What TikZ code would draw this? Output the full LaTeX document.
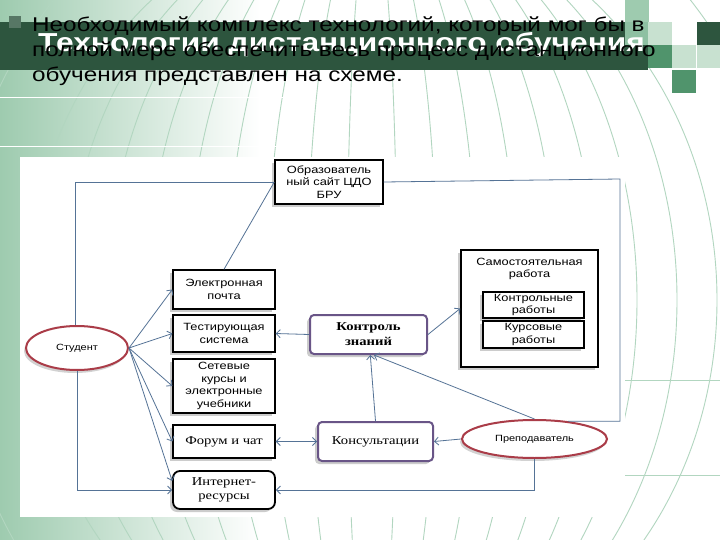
\documentclass[tikz,border=0pt]{standalone}
\usepackage{fontspec}
\setmainfont{Liberation Serif}
\newfontfamily\slidefont[FakeStretch=1.22]{Liberation Sans}
\newfontfamily\schemefont[FakeStretch=1.22]{Liberation Serif}
\usetikzlibrary{arrows.meta, shadows, shapes.geometric}
\definecolor{bandgreen}{RGB}{45,85,62}
\definecolor{midgreen}{RGB}{80,148,108}
\definecolor{lightgreen}{RGB}{158,203,175}
\definecolor{palegreen}{RGB}{200,225,208}
\definecolor{globeline}{RGB}{178,214,192}
\definecolor{linkblue}{RGB}{85,115,150}
\definecolor{ovalred}{RGB}{170,60,72}
\definecolor{framepurple}{RGB}{105,85,135}
\tikzset{
  box/.style     = {draw=black, line width=1.4pt, fill=white, align=center, inner sep=1pt,
                    font=\slidefont\fontsize{10.5}{12.5}\selectfont,
                    drop shadow={shadow xshift=-3pt, shadow yshift=-3pt, opacity=.4}},
  serifbox/.style= {box, font=\schemefont\fontsize{12}{14}\selectfont},
  purplebox/.style={serifbox, draw=framepurple, line width=2pt, rounded corners=4pt},
  oval/.style    = {ellipse, draw=ovalred, line width=2pt, fill=white, inner sep=0pt,
                    font=\slidefont\fontsize{9}{11}\selectfont,
                    drop shadow={shadow xshift=-2pt, shadow yshift=-3pt, opacity=.35}},
  link/.style    = {draw=linkblue, line width=0.8pt},
  arr/.style     = {link, -{Straight Barb[length=4pt,width=8pt]}},
  twoway/.style  = {link, {Straight Barb[length=4pt,width=8pt]}-{Straight Barb[length=4pt,width=8pt]}},
}

\begin{document}
\begin{tikzpicture}[
    x=1pt, y=-1pt,
    globe/.style={draw=globeline, line width=0.9pt},
    slidetext/.style={anchor=base west, inner sep=0pt, font=\slidefont\fontsize{19.9}{25}\selectfont},
    titletext/.style={anchor=base west, inner sep=0pt, text=white, font=\slidefont\bfseries\fontsize{26}{30}\selectfont}
]
\useasboundingbox (0,0) rectangle (720,540);
\fill[white] (0,0) rectangle (720,540);
% slide background
\shade[left color=lightgreen, right color=white] (0,0) rectangle (260,540);
\foreach \r in {25,65,...,345} {
    \draw[globe] (372,300) ellipse [x radius=\r, y radius=390];
}
\draw[globe] (372,300) ellipse [x radius=420, y radius=460];
\draw[white, line width=1pt] (0,98) -- (300,98);
\draw[white, line width=1pt] (0,147) -- (300,147);
\draw[globe] (625,380) -- (720,380);
\draw[globe] (625,475) -- (720,475);
% title band and squares
\fill[bandgreen] (0,22) rectangle (648,70);
\foreach \x/\y/\c in {625/0/lightgreen, 625/22/lightgreen!80!midgreen, 648/22/palegreen,
                      648/45/midgreen, 672/45/palegreen, 672/70/midgreen,
                      697/22/bandgreen, 697/45/palegreen} {
    \fill[\c] (\x,\y) rectangle ++(24,23);
}
\fill[bandgreen!80] (9,16) rectangle (21,28);
\node[titletext] (title) at (38,52) {Технологии дистанционного обучения};
\node[slidetext] (intro1) at (32,32) {Необходимый комплекс технологий, который мог бы в};
\node[slidetext] (intro2) at (32,57) {полной мере обеспечить весь процесс дистанционного};
\node[slidetext] (intro3) at (32,82) {обучения представлен на схеме.};
% scheme
\fill[white] (20,157) rectangle (625,517);
\node[box, minimum width=108pt, minimum height=44pt] (site) at (329,182) {Образователь\\ный сайт ЦДО\\БРУ};
\node[box, minimum width=102pt, minimum height=39pt] (mail) at (224,289.5) {Электронная\\почта};
\node[box, minimum width=102pt, minimum height=37pt] (test) at (224,333.5) {Тестирующая\\система};
\node[box, minimum width=102pt, minimum height=54pt] (courses) at (224,386) {Сетевые\\курсы и\\электронные\\учебники};
\node[serifbox, minimum width=102pt, minimum height=33pt] (forum) at (224,441.5) {Форум и чат};
\node[serifbox, rounded corners=7pt, line width=1.8pt, minimum width=102pt, minimum height=38pt] (inet) at (224,490) {Интернет-\\ресурсы};
\node[oval, minimum width=102pt, minimum height=44pt] (student) at (77,348) {Студент};
\node[purplebox, font=\schemefont\bfseries\fontsize{12}{15}\selectfont, minimum width=117pt, minimum height=39pt] (control) at (368.5,334.5) {Контроль\\знаний};
\node[purplebox, minimum width=115pt, minimum height=39pt] (consult) at (375.5,441.5) {Консультации};
\node[box, line width=1.6pt, minimum width=137pt, minimum height=117pt] (self) at (529.5,308.5) {};
\node[font=\slidefont\fontsize{10.5}{12.5}\selectfont, align=center, inner sep=0pt] (selftitle) at (529.5,269) {Самостоятельная\\работа};
\node[box, line width=1.1pt, minimum width=101pt, minimum height=26pt] (tests) at (533.5,305) {Контрольные\\работы};
\node[box, line width=1.1pt, minimum width=101pt, minimum height=27pt] (papers) at (533.5,334.5) {Курсовые\\работы};
\node[oval, minimum width=145pt, minimum height=38pt] (teacher) at (534.5,439) {Преподаватель};
% connectors
\coordinate (rightbend) at (620,179);
\draw[link] (student.95) |- (site.west);
\draw[link] (mail.north) -- (site.west);
\draw[link] (site.east) -- (rightbend) |- (teacher.28);
\foreach \t in {mail.west, test.west, courses.west, forum.west, inet.170} {
    \draw[arr] (student.east) -- (\t);
}
\draw[arr] (student.south) |- (inet.west);
\draw[arr] (control.west) -- (test.east);
\draw[arr] (control.east) -- (self.west);
\draw[arr] (consult.north) -- (control.-85);
\draw[arr] (teacher.north) -- (control.-75);
\draw[twoway] (forum.east) -- (consult.west);
\draw[arr] (teacher.west) -- (consult.east);
\draw[arr] (teacher.south) |- (inet.east);
\end{tikzpicture}
\end{document}
